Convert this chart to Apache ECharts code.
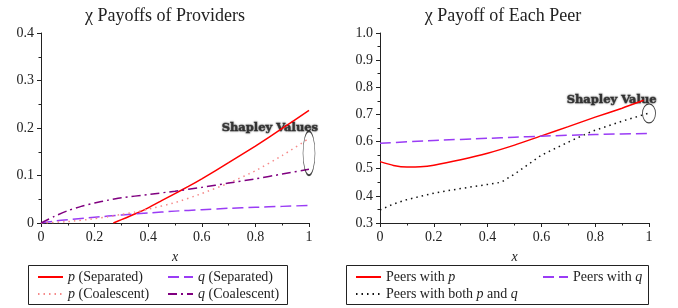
<!DOCTYPE html>
<html>
<head>
<meta charset="utf-8">
<script src="https://cdn.jsdelivr.net/npm/echarts@6/dist/echarts.min.js"></script>
<style>
  html, body { margin: 0; padding: 0; background: #fff; }
  #chart { width: 678px; height: 308px; }
</style>
</head>
<body>
<div id="chart"></div>
<script>
// left panel: chi payoffs of providers, [x, payoff]
var pSeparated = [[0.27, 0], [0.3, 0.007], [0.35, 0.019], [0.4, 0.032], [0.45, 0.047], [0.5, 0.062],
  [0.55, 0.077], [0.6, 0.093], [0.7, 0.127], [0.8, 0.162], [0.9, 0.199], [1, 0.237]];
var qSeparated = [[0, 0], [0.05, 0.004], [0.1, 0.007], [0.2, 0.012], [0.3, 0.017], [0.4, 0.021],
  [0.5, 0.025], [0.6, 0.028], [0.7, 0.031], [0.8, 0.033], [0.9, 0.035], [1, 0.037]];
var pCoalescent = [[0, 0], [0.1, 0.003], [0.2, 0.009], [0.25, 0.013], [0.3, 0.018], [0.35, 0.023],
  [0.4, 0.029], [0.5, 0.043], [0.6, 0.062], [0.7, 0.084], [0.8, 0.11], [0.9, 0.142], [1, 0.178]];
var qCoalescent = [[0, 0], [0.05, 0.014], [0.1, 0.026], [0.15, 0.035], [0.2, 0.042], [0.25, 0.048],
  [0.3, 0.053], [0.4, 0.06], [0.5, 0.067], [0.6, 0.075], [0.7, 0.084], [0.8, 0.093], [0.9, 0.103], [1, 0.113]];

// right panel: chi payoff of each peer
var peersP = [[0, 0.526], [0.05, 0.512], [0.1, 0.506], [0.15, 0.507], [0.2, 0.513], [0.3, 0.533],
  [0.4, 0.557], [0.5, 0.587], [0.6, 0.621], [0.7, 0.655], [0.8, 0.69], [0.9, 0.723], [0.98, 0.752]];
var peersQ = [[0, 0.594], [0.2, 0.604], [0.4, 0.612], [0.5, 0.616], [0.6, 0.62], [0.8, 0.626], [1, 0.63]];
var peersBoth = [[0, 0.348], [0.05, 0.37], [0.1, 0.386], [0.2, 0.41], [0.3, 0.427], [0.4, 0.442],
  [0.45, 0.45], [0.5, 0.48], [0.6, 0.55], [0.7, 0.598], [0.77, 0.63], [0.8, 0.642], [0.9, 0.675], [1, 0.705]];

// Shapley value annotations: ellipse centre and label anchor
var shapleyLeft = [1, 0.147];
var shapleyLeftLabel = [0.854, 0.2];
var shapleyRight = [1, 0.704];
var shapleyRightLabel = [0.861, 0.754];

var SERIF = 'Liberation Serif';
var INK = '#222';
var ELLIPSE = 'path://M0,50 A50,50 0 1,1 100,50 A50,50 0 1,1 0,50 Z';

function axisX(idx) {
  return {
    type: 'value', gridIndex: idx, min: 0, max: 1, interval: 0.2,
    name: 'x', nameLocation: 'middle', nameGap: 27,
    nameTextStyle: { fontFamily: SERIF, fontStyle: 'italic', fontSize: 14, color: INK },
    axisLine: { onZero: false, lineStyle: { color: INK, width: 1 } },
    axisTick: { length: 4, lineStyle: { color: INK } },
    minorTick: { show: true, splitNumber: 2, length: 2.5, lineStyle: { color: INK } },
    axisLabel: { fontFamily: SERIF, fontSize: 14, color: INK, margin: 7 },
    splitLine: { show: false }
  };
}

function axisY(idx, min, max, fmt) {
  return {
    type: 'value', gridIndex: idx, min: min, max: max, interval: 0.1,
    axisLine: { show: true, lineStyle: { color: INK, width: 1 } },
    axisTick: { show: true, length: 4, lineStyle: { color: INK } },
    minorTick: { show: true, splitNumber: 2, length: 2.5, lineStyle: { color: INK } },
    axisLabel: { fontFamily: SERIF, fontSize: 14, color: INK, margin: 7, formatter: fmt },
    splitLine: { show: false }
  };
}

function line(name, data, idx, color, type, smooth) {
  return {
    name: name, type: 'line', data: data, xAxisIndex: idx, yAxisIndex: idx,
    symbol: 'none', smooth: smooth, z: 3,
    lineStyle: { color: color, width: 1.5, type: type },
    itemStyle: { color: color }
  };
}

function ellipse(pos, idx, size) {
  return {
    type: 'scatter', xAxisIndex: idx, yAxisIndex: idx, data: [pos], silent: true, z: 4,
    symbol: ELLIPSE, symbolSize: size,
    itemStyle: { color: 'none', borderColor: '#111', borderWidth: 1 }
  };
}

function tag(pos, idx, text) {
  return {
    type: 'scatter', xAxisIndex: idx, yAxisIndex: idx, data: [pos], silent: true, z: 1,
    symbol: 'rect', symbolSize: 1,
    itemStyle: { color: 'rgba(0,0,0,0)' },
    label: {
      show: true, position: 'inside', formatter: text,
      fontFamily: 'DejaVu Serif', fontWeight: 'bold', fontSize: 11.5, color: '#1a1a1a',
      textBorderColor: 'rgba(40,40,40,0.6)', textBorderWidth: 0.8,
      textShadowColor: 'rgba(0,0,0,0.5)', textShadowBlur: 2
    }
  };
}

var rich = {
  i: { fontFamily: SERIF, fontStyle: 'italic', fontSize: 14, color: INK }
};
var legendNames = {
  'p (Separated)': '{i|p} (Separated)',
  'q (Separated)': '{i|q} (Separated)',
  'p (Coalescent)': '{i|p} (Coalescent)',
  'q (Coalescent)': '{i|q} (Coalescent)',
  'Peers with p': 'Peers with {i|p}',
  'Peers with q': 'Peers with {i|q}',
  'Peers with both p and q': 'Peers with both {i|p} and {i|q}'
};

function legendItem(name, left, top) {
  return {
    data: [name], left: left, top: top, itemWidth: 25, itemHeight: 14, selectedMode: false,
    itemStyle: { opacity: 0 },
    formatter: function (n) { return legendNames[n] || n; },
    textStyle: { fontFamily: SERIF, fontSize: 14, color: INK, rich: rich }
  };
}

var chart = echarts.init(document.getElementById('chart'));
chart.setOption({
  backgroundColor: '#fff',
  animation: false,
  title: [
    { text: 'χ Payoffs of Providers', left: 160, top: 2, textAlign: 'center',
      textStyle: { fontFamily: SERIF, fontSize: 18, fontWeight: 'normal', color: INK } },
    { text: 'χ Payoff of Each Peer', left: 498, top: 2, textAlign: 'center',
      textStyle: { fontFamily: SERIF, fontSize: 18, fontWeight: 'normal', color: INK } }
  ],
  grid: [
    { left: 41, right: 369, top: 33, bottom: 85 },
    { left: 380, right: 29, top: 33, bottom: 85 }
  ],
  xAxis: [axisX(0), axisX(1)],
  yAxis: [
    axisY(0, 0, 0.4),
    axisY(1, 0.3, 1.0, function (v) { return v.toFixed(1); })
  ],
  legend: [
    legendItem('p (Separated)', 32, 265),
    legendItem('q (Separated)', 162, 265),
    legendItem('p (Coalescent)', 32, 282),
    legendItem('q (Coalescent)', 162, 282),
    legendItem('Peers with p', 350, 265),
    legendItem('Peers with q', 537, 265),
    legendItem('Peers with both p and q', 350, 282)
  ],
  graphic: [
    { type: 'rect', shape: { x: 28.5, y: 265.5, width: 259, height: 39 },
      style: { fill: 'none', stroke: INK, lineWidth: 1 } },
    { type: 'rect', shape: { x: 346.5, y: 265.5, width: 302, height: 39 },
      style: { fill: 'none', stroke: INK, lineWidth: 1 } }
  ],
  series: [
    tag(shapleyLeftLabel, 0, 'Shapley Values'),
    line('p (Separated)', pSeparated, 0, '#ff0000', 'solid', 0.2),
    line('q (Separated)', qSeparated, 0, '#9a3cf5', [11, 5], 0.2),
    line('p (Coalescent)', pCoalescent, 0, '#f58a8a', [1.5, 4], 0.2),
    line('q (Coalescent)', qCoalescent, 0, '#800080', [9, 4, 2, 4], 0.2),
    ellipse(shapleyLeft, 0, [12, 44]),
    tag(shapleyRightLabel, 1, 'Shapley Value'),
    line('Peers with p', peersP, 1, '#ff0000', 'solid', 0.2),
    line('Peers with q', peersQ, 1, '#9a3cf5', [11, 5], 0.2),
    line('Peers with both p and q', peersBoth, 1, '#111', [1.5, 4], false),
    ellipse(shapleyRight, 1, [13, 19])
  ]
});
</script>
</body>
</html>
